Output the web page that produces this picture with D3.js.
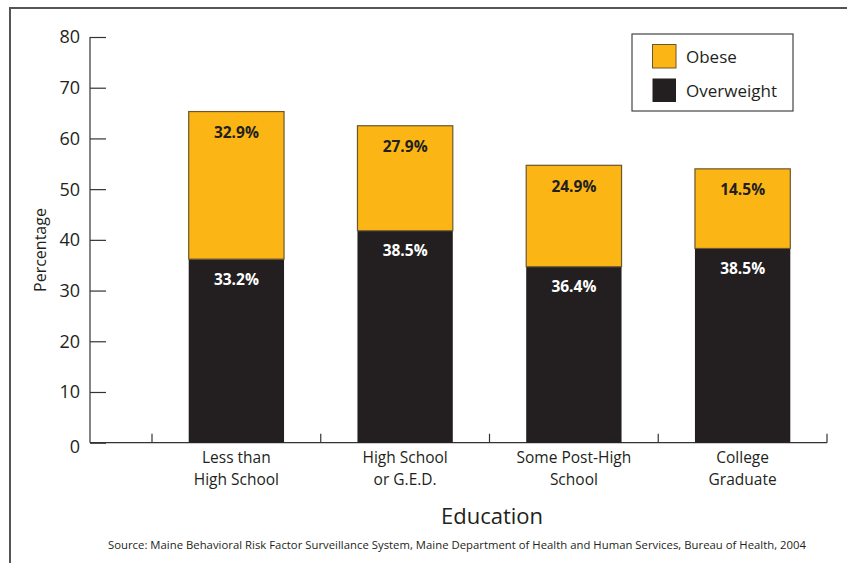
<!DOCTYPE html>
<html>
<head>
<meta charset="utf-8">
<script src="https://cdn.jsdelivr.net/npm/d3@7/dist/d3.min.js"></script>
<style>
  html, body { margin: 0; padding: 0; background: #fff; }
  svg { display: block; font-family: "Open Sans", "DejaVu Sans", sans-serif; }
</style>
</head>
<body>
<svg id="chart" width="847" height="563"></svg>
<script>
// ---- data ----
const categories = [["Less than", "High School"], ["High School", "or G.E.D."], ["Some Post-High", "School"], ["College", "Graduate"]];
// bar segment heights as drawn
const overweight = [36.2, 41.8, 34.7, 38.3];
const obese = [29.1, 20.7, 20.0, 15.7];
// printed value labels
const overweightLabels = ["33.2%", "38.5%", "36.4%", "38.5%"];
const obeseLabels = ["32.9%", "27.9%", "24.9%", "14.5%"];
const yTicks = [0, 10, 20, 30, 40, 50, 60, 70, 80];
const seriesNames = ["Obese", "Overweight"];
const seriesColors = ["#FBB615", "#231F20"];

const svg = d3.select("#chart");

// frame
svg.append("path")
  .attr("d", "M10,563 V8 H847")
  .attr("fill", "none").attr("stroke", "#555").attr("stroke-width", 2);

const y = d3.scaleLinear().domain([0, 80]).range([442.7, 37]);
const idx = categories.map((d, i) => i);
const x = d3.scaleBand().domain(idx).range([152, 827]).paddingInner(0).paddingOuter(0);
const barW = x.bandwidth() * 0.565;

// y axis
const yAxis = d3.axisRight(y).tickValues(yTicks).tickSize(16).tickFormat("");
const gy = svg.append("g").attr("transform", "translate(90,0)").call(yAxis);
gy.select(".domain").remove();
gy.selectAll(".tick line").attr("stroke", "#333").attr("stroke-width", 1.2);
svg.append("line").attr("x1", 90).attr("x2", 90).attr("y1", y(80)).attr("y2", y(0))
  .attr("stroke", "#333").attr("stroke-width", 1.2);
svg.selectAll(".ytl").data(yTicks).join("text")
  .attr("class", "ytl")
  .attr("x", 80).attr("y", d => y(d) + (d === 0 ? 4 : 0)).attr("dy", "0.36em")
  .attr("text-anchor", "end").attr("font-size", 18).attr("fill", "#231F20")
  .text(d => d);

// x axis
svg.append("line").attr("x1", 90).attr("x2", 827).attr("y1", y(0)).attr("y2", y(0))
  .attr("stroke", "#333").attr("stroke-width", 1.2);
const xb = idx.map(i => x(i)).concat([x(idx.length - 1) + x.bandwidth()]);
svg.selectAll(".xtick").data(xb).join("line")
  .attr("class", "xtick")
  .attr("x1", d => d).attr("x2", d => d).attr("y1", y(0)).attr("y2", y(0) - 9)
  .attr("stroke", "#333").attr("stroke-width", 1.2);

// bars
const g = svg.append("g");
idx.forEach(i => {
  const cx = x(i) + x.bandwidth() / 2;
  const x0 = cx - barW / 2;
  // overweight (bottom)
  g.append("rect")
    .attr("x", x0).attr("width", barW)
    .attr("y", y(overweight[i])).attr("height", y(0) - y(overweight[i]))
    .attr("fill", seriesColors[1]);
  // obese (top)
  const top = overweight[i] + obese[i];
  g.append("rect")
    .attr("x", x0).attr("width", barW)
    .attr("y", y(top)).attr("height", y(overweight[i]) - y(top))
    .attr("fill", seriesColors[0]).attr("stroke", "#6b5632").attr("stroke-width", 1.2);
  g.append("text")
    .attr("x", cx).attr("y", y(top) + 21).attr("dy", "0.36em")
    .attr("text-anchor", "middle").attr("font-size", 15.5).attr("font-weight", "bold")
    .attr("fill", "#231F20").text(obeseLabels[i]);
  g.append("text")
    .attr("x", cx).attr("y", y(overweight[i]) + 20).attr("dy", "0.36em")
    .attr("text-anchor", "middle").attr("font-size", 15.5).attr("font-weight", "bold")
    .attr("fill", "#fff").text(overweightLabels[i]);
  // category label (two lines)
  categories[i].forEach((line, k) => {
    svg.append("text").attr("text-anchor", "middle").attr("font-size", 15.5).attr("fill", "#231F20")
      .attr("x", cx).attr("y", 463 + k * 21.5).text(line);
  });
});

// axis titles
svg.append("text")
  .attr("transform", "translate(46,250) rotate(-90)")
  .attr("text-anchor", "middle").attr("font-size", 16).attr("fill", "#231F20")
  .text("Percentage");
svg.append("text")
  .attr("x", 492).attr("y", 524)
  .attr("text-anchor", "middle").attr("font-size", 22).attr("fill", "#231F20")
  .text("Education");
svg.append("text")
  .attr("x", 457).attr("y", 549)
  .attr("text-anchor", "middle").attr("font-size", 11.3).attr("fill", "#231F20")
  .attr("textLength", 698).attr("lengthAdjust", "spacing")
  .text("Source: Maine Behavioral Risk Factor Surveillance System, Maine Department of Health and Human Services, Bureau of Health, 2004");

// legend
const lg = svg.append("g");
lg.append("rect").attr("x", 632).attr("y", 34).attr("width", 161).attr("height", 77)
  .attr("fill", "#fff").attr("stroke", "#444").attr("stroke-width", 1.2);
seriesNames.forEach((name, k) => {
  const yy = 44.5 + k * 34;
  lg.append("rect").attr("x", 652.5).attr("y", yy).attr("width", 23.5).attr("height", 23.5)
    .attr("fill", seriesColors[k])
    .attr("stroke", k === 0 ? "#6b5632" : "none").attr("stroke-width", 1);
  lg.append("text").attr("x", 686).attr("y", yy + 12).attr("dy", "0.36em")
    .attr("font-size", 17).attr("fill", "#231F20").text(name);
});
</script>
</body>
</html>
